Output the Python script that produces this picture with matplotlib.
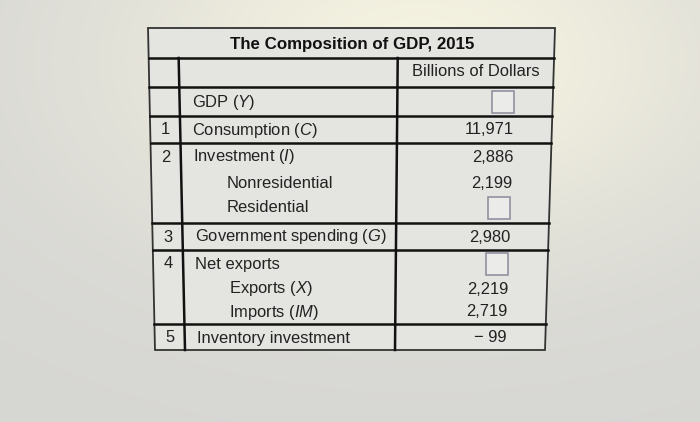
import matplotlib.pyplot as plt
import numpy as np

plt.rcParams['font.family'] = ['Liberation Sans', 'DejaVu Sans']
plt.rcParams['mathtext.fontset'] = 'custom'
plt.rcParams['mathtext.rm'] = 'Liberation Sans'
plt.rcParams['mathtext.it'] = 'Liberation Sans:italic'

title = 'The Composition of GDP, 2015'
col_header = 'Billions of Dollars'
numbers = ['', '1', '2', '', '', '3', '4', '', '', '5']
labels = ['GDP ($\\mathit{Y}$)', 'Consumption ($\\mathit{C}$)', 'Investment ($\\mathit{I}$)',
          'Nonresidential', 'Residential', 'Government spending ($\\mathit{G}$)',
          'Net exports', 'Exports ($\\mathit{X}$)', 'Imports ($\\mathit{IM}$)',
          'Inventory investment']
indent = [0, 0, 0, 1, 1, 0, 0, 1, 1, 0]
values = [None, '11,971', '2,886', '2,199', None, '2,980', None, '2,219', '2,719', '\u2212 99']

# row centres and horizontal rules (pixels from top), photo is slightly skewed
row_y = [102, 130, 157, 183, 208, 237, 264, 289, 312, 338]
rules = [58, 87, 116, 143, 223, 250, 324]
top, bottom = 28, 350


def edge(x_top, x_bot, y):
    return x_top + (x_bot - x_top) * (y - top) / (bottom - top)


fig = plt.figure(figsize=(7, 4.22), dpi=100)
fig.patch.set_facecolor('#d8d8d4')
ax = fig.add_axes([0, 0, 1, 1])
ax.set_xlim(0, 700)
ax.set_ylim(422, 0)
ax.axis('off')

# soft bright background glow
yy, xx = np.mgrid[0:422, 0:700]
glow = np.exp(-(((xx - 420) / 330) ** 2 + ((yy - 60) / 200) ** 2))
bg = np.zeros((422, 700, 3))
base = np.array([0.84, 0.84, 0.83])
hi = np.array([0.96, 0.95, 0.88])
bg[:] = base
bg += glow[..., None] * (hi - base)
ax.imshow(bg, extent=(0, 700, 422, 0), zorder=0)

L = (148, 155)
R = (555, 545)
D1 = (178, 185)
D2 = (398, 395)

poly = [(L[0], top), (R[0], top), (R[1], bottom), (L[1], bottom)]
ax.add_patch(plt.Polygon(poly, closed=True, facecolor='#e4e4e1', edgecolor='#333333',
                         lw=1.3, zorder=1))

for y in rules:
    ax.plot([edge(*L, y), edge(*R, y)], [y, y], color='#111111', lw=1.8, zorder=2)
for d in (D1, D2):
    ax.plot([edge(*d, rules[0]), edge(*d, bottom)], [rules[0], bottom],
            color='#111111', lw=1.8, zorder=2)

fs = 11.9
ax.text(352, 44, title, ha='center', va='center', fontsize=12.2,
        fontweight='bold', color='#111111', zorder=3)
ax.text(476, 72, col_header, ha='center', va='center', fontsize=fs,
        color='#222222', zorder=3)

for i, y in enumerate(row_y):
    if numbers[i]:
        ax.text((edge(*L, y) + edge(*D1, y)) / 2, y, numbers[i], ha='center',
                va='center', fontsize=fs, color='#222222', zorder=3)
    x = edge(190, 197, y) + 33 * indent[i]
    ax.text(x, y, labels[i], ha='left', va='center', fontsize=fs,
            color='#222222', zorder=3)
    xr = edge(518, 506, y)
    if values[i] is None:
        ax.add_patch(plt.Rectangle((xr - 23, y - 11.5), 22, 22, facecolor='#ebebea',
                                   edgecolor='#8a8a9a', lw=1.1, zorder=3))
    else:
        ax.text(xr, y, values[i], ha='right', va='center', fontsize=fs,
                color='#222222', zorder=3)

fig.savefig('out.png', dpi=100)
